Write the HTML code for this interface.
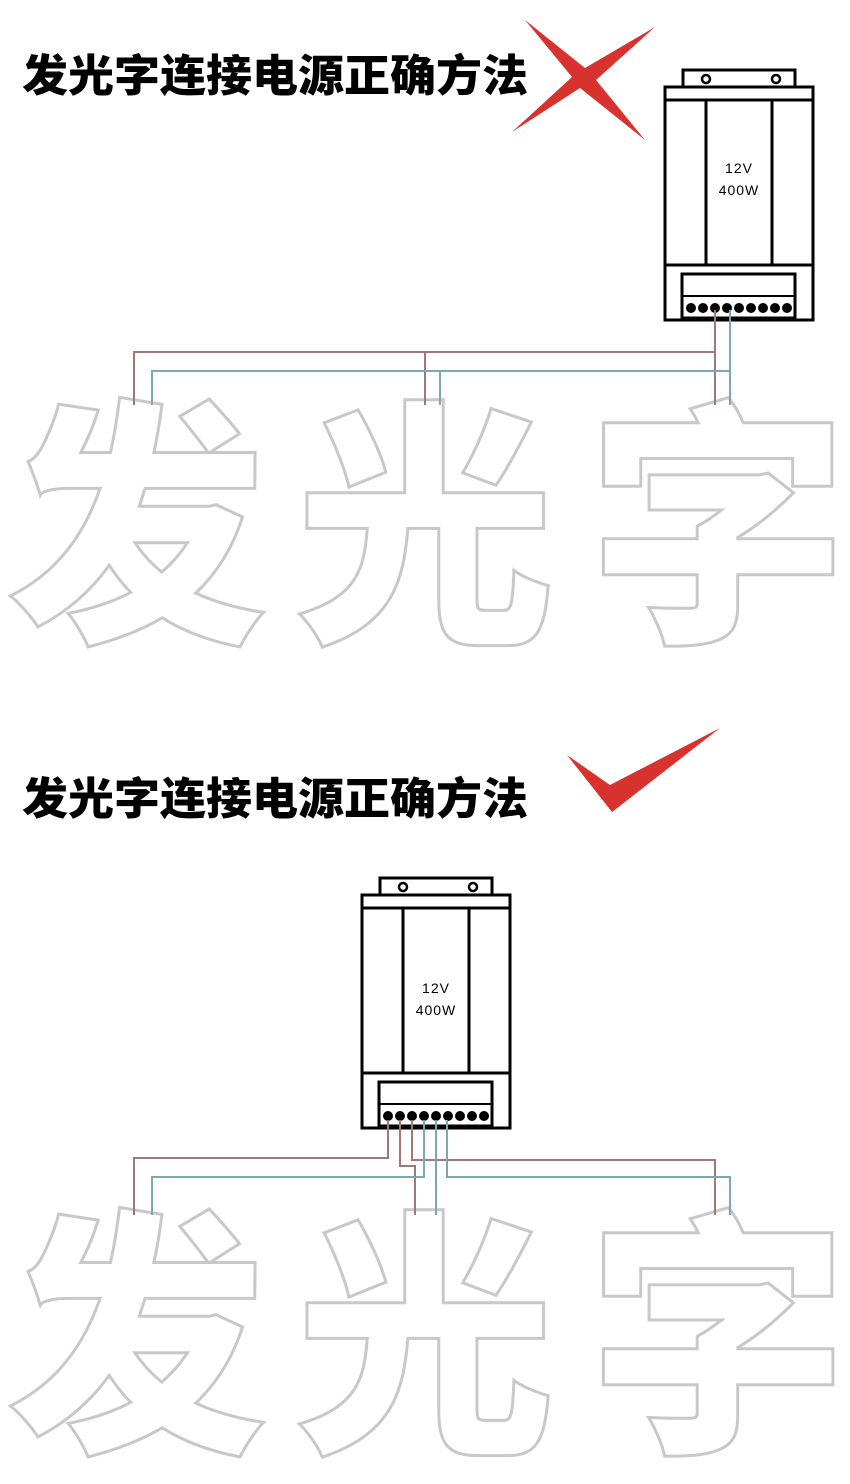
<!DOCTYPE html>
<html><head><meta charset="utf-8"><style>
html,body{margin:0;padding:0;background:#fff;}
svg{display:block}
</style></head><body>
<svg width="850" height="1484" viewBox="0 0 850 1484" xmlns="http://www.w3.org/2000/svg">
<rect width="850" height="1484" fill="#fff"/>
<g font-family="'Liberation Sans','Noto Sans CJK SC',sans-serif" font-weight="900" font-size="44" fill="#000">
<text x="22" y="91" textLength="506" lengthAdjust="spacingAndGlyphs">发光字连接电源正确方法</text>
<text x="22" y="814" textLength="506" lengthAdjust="spacingAndGlyphs">发光字连接电源正确方法</text>
</g>
<polygon points="525,20 585,68 655,27 596,80 645,140 580,88 512,132 572,77" fill="#d8322f"/>
<polygon points="567,755 610,785 720,728 612,812" fill="#d8322f"/>

<g font-family="'Noto Sans CJK SC',sans-serif" font-weight="900" font-size="260" fill="#fff" stroke="#c8c8c8" stroke-width="3" text-anchor="middle">
<text x="137" y="622">发</text><text x="425" y="622">光</text><text x="718" y="622">字</text>
<text x="137" y="1432">发</text><text x="425" y="1432">光</text><text x="718" y="1432">字</text>
</g>

<defs>
<g id="psu" fill="none" stroke="#000" stroke-width="3">
<rect x="18" y="0" width="112" height="17" fill="#fff"/>
<circle cx="41" cy="9" r="4" fill="#fff" stroke-width="2.5"/>
<circle cx="111" cy="9" r="4" fill="#fff" stroke-width="2.5"/>
<rect x="0" y="17" width="148" height="233" fill="#fff"/>
<line x1="0" y1="30" x2="148" y2="30"/>
<line x1="41" y1="30" x2="41" y2="195"/>
<line x1="107" y1="30" x2="107" y2="195"/>
<line x1="0" y1="195" x2="148" y2="195"/>
<rect x="17" y="204" width="113" height="44"/>
<line x1="17" y1="226" x2="130" y2="226" stroke-width="2"/>
<g fill="#000" stroke="none">
<circle cx="26" cy="238" r="5"/><circle cx="38" cy="238" r="5"/><circle cx="50" cy="238" r="5"/>
<circle cx="62" cy="238" r="5"/><circle cx="74" cy="238" r="5"/><circle cx="86" cy="238" r="5"/>
<circle cx="98" cy="238" r="5"/><circle cx="110" cy="238" r="5"/><circle cx="122" cy="238" r="5"/>
</g>
</g>
</defs>
<use href="#psu" x="665" y="70"/>
<use href="#psu" x="362" y="878"/>
<g font-family="'Liberation Sans',sans-serif" font-size="14" fill="#000" text-anchor="middle" letter-spacing="1">
<text x="739" y="173">12V</text><text x="739" y="195">400W</text>
<text x="436" y="993">12V</text><text x="436" y="1015">400W</text>
</g>

<g fill="none" stroke-width="2">
<path d="M715,310 V405 M715,352 H134 V405 M425,352 V405" stroke="#a07878"/>
<path d="M730,310 V405 M730,371 H152 V405 M440,371 V405" stroke="#7ea8b0"/>
</g>
<g fill="none" stroke-width="2">
<path d="M388,1120 V1158 H134 V1215" stroke="#a07878"/>
<path d="M400,1120 V1166 H415 V1215" stroke="#a07878"/>
<path d="M412,1120 V1160 H715 V1215" stroke="#a07878"/>
<path d="M424,1120 V1177 H152 V1215" stroke="#7ea8b0"/>
<path d="M436,1120 V1215" stroke="#7ea8b0"/>
<path d="M447,1120 V1177 H730 V1215" stroke="#7ea8b0"/>
</g>
</svg>
</body></html>
